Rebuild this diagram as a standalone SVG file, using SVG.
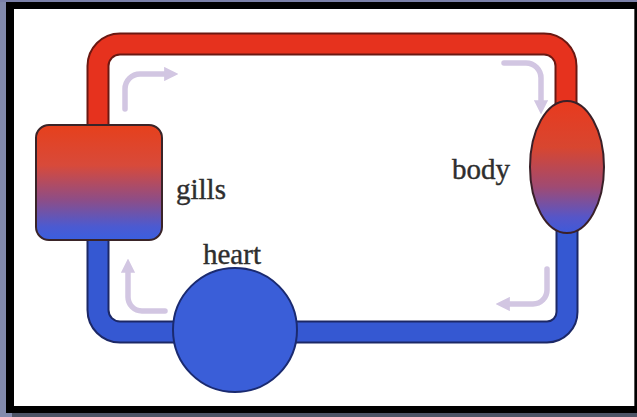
<svg xmlns="http://www.w3.org/2000/svg" width="637" height="417" viewBox="0 0 637 417">
<defs>
<linearGradient id="gGills" x1="0" y1="0" x2="0" y2="1">
<stop offset="0" stop-color="#e6401c"/>
<stop offset="0.35" stop-color="#d84a3a"/>
<stop offset="0.65" stop-color="#8e4d86"/>
<stop offset="0.88" stop-color="#4c5ad0"/>
<stop offset="1" stop-color="#3a5fe0"/>
</linearGradient>
<linearGradient id="gBody" x1="0" y1="0" x2="0" y2="1">
<stop offset="0" stop-color="#e83a1e"/>
<stop offset="0.35" stop-color="#d84630"/>
<stop offset="0.65" stop-color="#a04a72"/>
<stop offset="0.88" stop-color="#5656c8"/>
<stop offset="1" stop-color="#3e5ada"/>
</linearGradient>
<marker id="ah" viewBox="0 0 10 10" refX="2" refY="5" markerWidth="2.6" markerHeight="2.6" orient="auto" markerUnits="strokeWidth">
<path d="M0,0 L10,5 L0,10 Z" fill="#d2c6e2"/>
</marker>
<style>
.lbl{font-family:"Liberation Serif","Times New Roman",serif;font-size:29px;fill:#2e2e2e;stroke:#2e2e2e;stroke-width:0.4;}
.redOut{fill:none;stroke:#6a1812;stroke-width:23;}
.redIn{fill:none;stroke:#e6321e;stroke-width:19;}
.bluOut{fill:none;stroke:#1c2866;stroke-width:23;}
.bluIn{fill:none;stroke:#3558d2;stroke-width:19;}
.flow{fill:none;stroke:#d2c6e2;stroke-width:5.5;stroke-linecap:round;marker-end:url(#ah);}
</style>
</defs>
<rect x="0" y="0" width="637" height="417" fill="#000000"/>
<rect x="0" y="0" width="6" height="417" fill="#828aac"/>
<rect x="0" y="0" width="637" height="2" fill="#7a80a8"/>
<rect x="0" y="413" width="637" height="4" fill="#4d5466"/>
<rect x="0" y="413" width="12" height="4" fill="#828aac"/>
<rect x="14" y="9" width="620" height="397" fill="#ffffff"/>
<rect x="634" y="9" width="1" height="397" fill="#555555"/>
<g id="connectors">
<path class="redOut" d="M98,128 V66 A22,22 0 0 1 120,44 H544 A22,22 0 0 1 566,66 V112"/>
<path class="redIn" d="M98,128 V66 A22,22 0 0 1 120,44 H544 A22,22 0 0 1 566,66 V112"/>
<path class="bluOut" d="M98,236 V310 A22,22 0 0 0 120,332 H547 A20,20 0 0 0 567,312 V222"/>
<path class="bluIn" d="M98,236 V310 A22,22 0 0 0 120,332 H547 A20,20 0 0 0 567,312 V222"/>
<path class="flow" d="M125,109 V89 A15,15 0 0 1 140,74 H167"/>
<path class="flow" d="M504,63 H526 A15,15 0 0 1 541,78 V103"/>
<path class="flow" d="M547,269 V290 A14,14 0 0 1 533,304 H507"/>
<path class="flow" d="M165,311 H142 A14,14 0 0 1 128,297 V270"/>
</g>
<g id="gills">
<rect x="36" y="125" width="126" height="115" rx="13" fill="url(#gGills)" stroke="#3a2428" stroke-width="2"/>
<text class="lbl" x="176" y="199">gills</text>
</g>
<g id="heart">
<circle cx="235" cy="330" r="62" fill="#3a5ed8" stroke="#1a2a70" stroke-width="2"/>
<text class="lbl" x="203" y="264">heart</text>
</g>
<g id="body">
<ellipse cx="567" cy="167" rx="37" ry="66" fill="url(#gBody)" stroke="#3a2028" stroke-width="2"/>
<text class="lbl" x="452" y="179">body</text>
</g>
</svg>
